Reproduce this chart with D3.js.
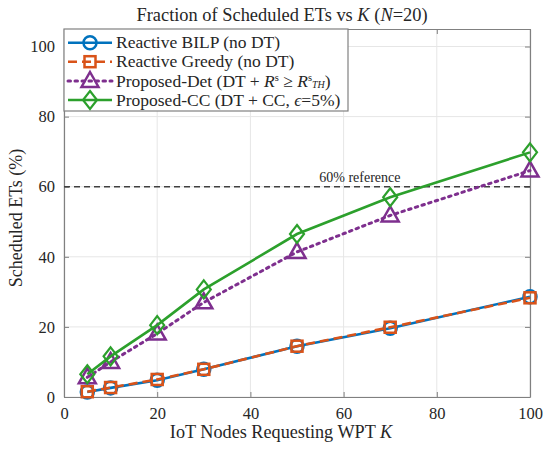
<!DOCTYPE html>
<html><head><meta charset="utf-8">
<script src="https://cdn.jsdelivr.net/npm/d3@7"></script>
<style>body{margin:0;background:#fff}svg{display:block}svg text{font-family:"Liberation Serif","DejaVu Serif","Noto Serif",serif !important;fill:#262626}</style>
</head><body><svg id="c" width="550" height="451"></svg>
<script>
const K = [5, 10, 20, 30, 50, 70, 100];
const bilp = [1.4, 2.6, 4.8, 7.9, 14.5, 19.6, 28.6];
const greedy = [1.5, 2.7, 5.0, 7.9, 14.5, 19.9, 28.3];
const det = [5.6, 10.0, 18.1, 27.0, 41.4, 51.8, 64.6];
const cc = [6.5, 11.6, 20.5, 30.7, 46.5, 57.0, 69.8];
const xTicks = [0, 20, 40, 60, 80, 100];
const yTicks = [0, 20, 40, 60, 80, 100];
const refValue = 60;

const FONT = '"Liberation Serif", "DejaVu Serif", serif';
const svg = d3.select("#c").attr("font-family", FONT);
const m = {l: 64, r: 530, t: 29, b: 397};
const x = d3.scaleLinear().domain([0, 100]).range([m.l, m.r]);
const y = d3.scaleLinear().domain([0, 105]).range([m.b, m.t]);

// grid
const g = svg.append("g");
g.selectAll(".gx").data(xTicks).join("line").attr("x1", d => x(d)).attr("x2", d => x(d))
  .attr("y1", m.t).attr("y2", m.b).attr("stroke", "#e6e6e6").attr("stroke-width", 1);
g.selectAll(".gy").data(yTicks).join("line").attr("y1", d => y(d)).attr("y2", d => y(d))
  .attr("x1", m.l).attr("x2", m.r).attr("stroke", "#e6e6e6").attr("stroke-width", 1);

// axes
const ax = svg.append("g").attr("transform", `translate(0,${m.b})`)
  .call(d3.axisBottom(x).tickValues(xTicks).tickSizeInner(-5).tickSizeOuter(0).tickPadding(10));
const axT = svg.append("g").attr("transform", `translate(0,${m.t})`)
  .call(d3.axisTop(x).tickValues(xTicks).tickSizeInner(-5).tickSizeOuter(0).tickFormat(""));
const ay = svg.append("g").attr("transform", `translate(${m.l},0)`)
  .call(d3.axisLeft(y).tickValues(yTicks).tickSizeInner(-5).tickSizeOuter(0).tickPadding(9));
const ayR = svg.append("g").attr("transform", `translate(${m.r},0)`)
  .call(d3.axisRight(y).tickValues(yTicks).tickSizeInner(-5).tickSizeOuter(0).tickFormat(""));
[ax, axT, ay, ayR].forEach(a => {
  a.attr("font-family", FONT);
  a.select(".domain").attr("stroke", "#808080").attr("stroke-width", 1.2);
  a.selectAll(".tick line").attr("stroke", "#808080");
  a.selectAll("text").attr("font-size", 16.5).attr("fill", "#262626");
});

// reference line
svg.append("line").attr("x1", x(0)).attr("x2", x(100)).attr("y1", y(refValue)).attr("y2", y(refValue))
  .attr("stroke", "#404040").attr("stroke-width", 1.5).attr("stroke-dasharray", "6,4");
svg.append("text").attr("x", x(63.5)).attr("y", y(refValue) - 5).attr("text-anchor", "middle")
  .attr("font-size", 14).attr("fill", "#555").text("60% reference");

const series = [
  {name: "bilp", vals: bilp, color: "#0072BD", dash: null, marker: "circle"},
  {name: "greedy", vals: greedy, color: "#D95319", dash: "9,5", marker: "square"},
  {name: "det", vals: det, color: "#7E2F8E", dash: "2.5,4.5", marker: "triangle"},
  {name: "cc", vals: cc, color: "#2CA02C", dash: null, marker: "diamond"}
];
const line = d3.line().x(d => x(d[0])).y(d => y(d[1]));
function drawMarker(sel, type, color) {
  if (type === "circle") sel.append("circle").attr("r", 6.5).attr("fill", "none").attr("stroke", color).attr("stroke-width", 2.5);
  if (type === "square") sel.append("rect").attr("x", -5.5).attr("y", -5.5).attr("width", 11).attr("height", 11).attr("fill", "none").attr("stroke", color).attr("stroke-width", 2.5);
  if (type === "triangle") sel.append("path").attr("d", "M0,-9L8.5,6L-8.5,6Z").attr("fill", "none").attr("stroke", color).attr("stroke-width", 2.5);
  if (type === "diamond") sel.append("path").attr("d", "M0,-9L7,0L0,9L-7,0Z").attr("fill", "none").attr("stroke", color).attr("stroke-width", 2.2);
}
series.forEach(s => {
  const pts = K.map((k, i) => [k, s.vals[i]]);
  svg.append("path").datum(pts).attr("d", line).attr("fill", "none").attr("stroke", s.color)
    .attr("stroke-width", s.name === "det" ? 3 : 2.6).attr("stroke-dasharray", s.dash)
    .attr("stroke-linecap", s.name === "det" ? "round" : "butt");
  pts.forEach(p => {
    const mg = svg.append("g").attr("transform", `translate(${x(p[0])},${y(p[1])})`);
    drawMarker(mg, s.marker, s.color);
  });
});

// legend
const lg = svg.append("g");
lg.append("rect").attr("x", m.l).attr("y", m.t).attr("width", 284).attr("height", 82)
  .attr("fill", "#fff").attr("stroke", "#808080").attr("stroke-width", 1.2);
const rows = [42.7, 61.7, 81, 100];
const labels = [
  [["Reactive BILP (no DT)", ""]],
  [["Reactive Greedy (no DT)", ""]],
  [["Proposed-Det (DT + ", ""], ["R", "i"], ["s", "sup"], [" ≥ ", "back"], ["R", "i"], ["s", "sup"], ["TH", "sub"], [")", "end"]],
  [["Proposed-CC (DT + CC, ", ""], ["ϵ", "i"], ["=5%)", ""]]
];
series.forEach((s, i) => {
  const yy = rows[i];
  lg.append("line").attr("x1", 68).attr("x2", 112).attr("y1", yy).attr("y2", yy)
    .attr("stroke", s.color).attr("stroke-width", s.name === "det" ? 3 : 2.6).attr("stroke-dasharray", s.dash)
    .attr("stroke-linecap", s.name === "det" ? "round" : "butt");
  drawMarker(lg.append("g").attr("transform", `translate(90,${yy})`), s.marker, s.color);
  const t = lg.append("text").attr("x", 116).attr("y", yy + 5.5).attr("font-size", 17.5);
  labels[i].forEach(([txt, st]) => {
    const sp = t.append("tspan").text(txt);
    if (st === "i") sp.attr("font-style", "italic");
    if (st === "sup") sp.attr("font-size", 10.5).attr("dy", -6);
    if (st === "back") sp.attr("dy", 6);
    if (st === "sub") sp.attr("font-size", 10).attr("font-style", "italic").attr("dy", 7);
    if (st === "end") sp.attr("dy", -1);
  });
});

// title & axis labels
const title = svg.append("text").attr("x", 282).attr("y", 21).attr("text-anchor", "middle").attr("font-size", 18.4);
title.append("tspan").text("Fraction of Scheduled ETs vs ");
title.append("tspan").attr("font-style", "italic").text("K");
title.append("tspan").text(" (");
title.append("tspan").attr("font-style", "italic").text("N");
title.append("tspan").text("=20)");

const xl = svg.append("text").attr("x", 281).attr("y", 438).attr("text-anchor", "middle").attr("font-size", 18.2);
xl.append("tspan").text("IoT Nodes Requesting WPT ");
xl.append("tspan").attr("font-style", "italic").text("K");

svg.append("text").attr("transform", `translate(22,${(m.t + m.b) / 2 + 5}) rotate(-90)`)
  .attr("text-anchor", "middle").attr("font-size", 18).text("Scheduled ETs (%)");
</script></body></html>
